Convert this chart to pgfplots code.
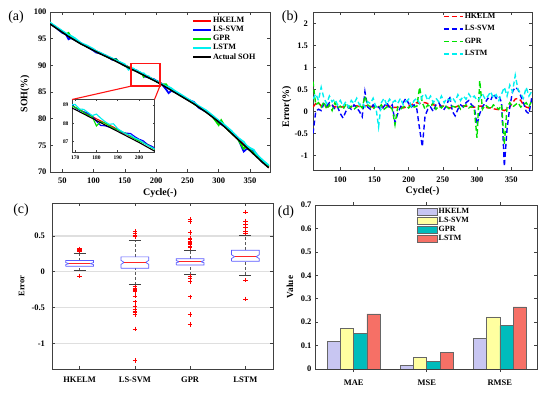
\documentclass[border=0pt]{standalone}
\usepackage{pgfplots}
\pgfplotsset{compat=1.18}
\usepackage{pgfplotstable}
\usepackage{fontspec}
\setmainfont{Liberation Serif}

\definecolor{cHK}{RGB}{255,0,0}
\definecolor{cLS}{RGB}{0,0,255}
\definecolor{cGP}{RGB}{0,225,0}
\definecolor{cLT}{RGB}{0,240,240}
\definecolor{bHK}{RGB}{200,198,242}
\definecolor{bLS}{RGB}{255,255,160}
\definecolor{bGP}{RGB}{0,188,188}
\definecolor{bLT}{RGB}{246,112,102}
\definecolor{boxblue}{RGB}{90,90,255}
\definecolor{rectred}{RGB}{255,20,20}

\pgfplotstableread{
c act hk ls gp lstm
30 97.80 97.92 97.90 97.95 98.05
40 97.00 97.12 97.05 97.10 97.25
50 96.20 96.32 96.10 96.30 96.45
56 95.72 95.84 95.80 95.85 96.00
60 95.40 95.50 94.90 96.08 95.68
64 95.12 95.30 95.12 95.27 95.52
70 94.70 94.82 94.75 94.80 95.10
80 94.00 94.10 94.12 94.05 94.18
90 93.40 93.52 93.50 93.50 93.68
100 92.80 92.91 92.75 92.92 93.05
104 92.56 92.66 92.41 92.61 92.68
110 92.20 92.32 92.25 92.30 92.40
120 91.65 91.77 91.80 91.70 91.83
130 91.10 91.22 91.05 91.18 91.30
136 90.74 90.86 91.19 91.09 90.84
140 90.50 90.64 90.60 90.65 90.72
150 89.90 90.00 90.00 89.95 90.20
156 89.54 89.65 89.64 89.62 89.19
160 89.30 89.40 89.32 89.45 89.50
164 89.08 89.20 89.20 89.13 89.38
166 88.97 89.09 89.12 89.05 89.17
168 88.86 88.99 89.06 88.96 89.01
170 88.75 88.87 88.85 88.87 89.03
172 88.63 88.75 88.71 88.75 88.78
174 88.51 88.62 88.63 88.59 88.76
176 88.39 88.49 88.54 88.44 88.59
178 88.27 88.37 88.39 88.37 88.42
180 88.15 88.24 88.10 87.85 88.50
182 88.03 88.13 87.88 88.08 88.28
184 87.91 88.01 87.86 88.01 88.09
186 87.79 87.90 87.79 87.87 87.94
188 87.67 87.79 87.72 87.72 87.97
190 87.55 87.65 87.65 87.65 87.70
192 87.43 87.51 87.51 87.53 87.55
194 87.31 87.40 87.46 87.43 87.41
196 87.19 87.29 87.44 87.29 87.34
198 87.07 87.18 87.27 87.15 87.19
200 86.95 87.07 87.13 87.03 87.10
202 86.82 86.95 87.04 86.92 86.94
204 86.69 86.84 86.84 86.81 86.79
206 86.56 86.72 86.74 86.66 86.68
208 86.43 86.61 86.58 86.53 86.55
210 86.30 86.50 86.35 86.42 86.45
216 85.88 86.06 85.48 86.43 86.06
220 85.60 85.80 84.80 85.80 85.95
224 85.32 85.52 85.22 85.37 85.72
230 84.90 85.08 84.98 85.02 85.20
240 84.20 84.34 84.35 84.25 84.50
250 83.50 83.62 83.58 83.62 83.75
260 82.80 82.88 83.15 82.85 83.05
268 82.16 82.26 82.06 82.26 82.38
280 81.20 81.33 81.30 81.30 81.55
290 80.30 80.40 80.50 80.40 80.62
300 79.40 79.50 79.10 78.80 79.65
304 79.00 79.12 78.95 79.70 79.30
310 78.40 78.51 78.55 78.50 78.75
320 77.30 77.38 77.55 77.35 77.75
330 76.20 76.25 76.52 76.30 76.50
340 75.10 75.12 73.85 74.35 75.65
344 74.66 74.71 74.26 74.76 75.01
350 74.00 74.15 74.40 74.12 74.50
356 73.34 73.62 73.89 73.49 74.16
360 72.90 73.20 73.40 73.10 73.40
370 71.80 71.92 71.85 71.98 72.25
380 70.80 70.85 71.10 71.05 71.25
}\tabA

\pgfplotstableread{
c hk ls gp lstm
60 0.10 -0.50 0.68 0.28
64 0.18 0.00 0.15 0.40
68 0.20 0.05 0.20 0.25
72 0.12 0.02 0.10 0.55
76 0.15 0.18 0.22 0.30
80 0.10 0.12 0.05 0.18
84 0.12 0.20 0.15 0.35
88 0.14 0.15 0.02 0.22
92 0.10 0.05 0.20 0.28
96 0.12 0.10 0.08 0.15
100 0.11 -0.05 0.12 0.25
104 0.10 -0.15 0.05 0.12
108 0.13 0.00 0.15 0.22
112 0.12 0.10 0.08 0.10
116 0.10 0.05 0.12 0.25
120 0.12 0.15 0.05 0.18
124 0.13 0.08 0.10 0.30
128 0.11 0.00 0.15 0.15
132 0.12 -0.12 0.08 0.20
136 0.12 0.45 0.35 0.10
140 0.14 0.10 0.15 0.22
144 0.12 0.05 0.10 0.18
148 0.10 0.15 0.05 0.30
152 0.12 0.08 0.12 0.10
156 0.11 0.10 0.08 -0.35
160 0.10 0.02 0.15 0.20
164 0.12 0.12 0.05 0.30
168 0.13 0.20 0.10 0.15
172 0.12 0.08 0.12 0.28
176 0.10 0.15 0.05 0.20
180 0.09 -0.25 -0.30 0.25
184 0.10 -0.05 0.10 0.18
188 0.12 0.10 0.05 0.30
192 0.08 0.20 0.10 0.15
196 0.10 0.30 0.12 0.22
200 0.12 0.18 0.08 0.28
204 0.15 0.10 0.15 0.12
208 0.18 0.15 0.10 0.25
212 0.20 0.05 0.12 0.30
216 0.18 -0.40 0.55 0.18
220 0.20 -0.80 0.20 0.35
224 0.20 -0.10 0.05 0.40
228 0.18 0.05 0.15 0.25
232 0.16 0.10 0.10 0.35
236 0.15 0.00 0.20 0.20
240 0.14 0.15 0.05 0.30
244 0.13 0.20 0.12 0.22
248 0.12 0.10 0.08 0.35
252 0.12 0.05 0.15 0.20
256 0.10 0.15 0.10 0.30
260 0.08 0.35 0.05 0.25
264 0.08 0.00 0.12 0.32
268 0.10 -0.10 0.10 0.22
272 0.12 0.05 0.15 0.38
276 0.12 0.15 0.05 0.25
280 0.13 0.10 0.10 0.35
284 0.12 0.20 0.15 0.28
288 0.12 0.25 0.08 0.40
292 0.10 0.15 0.12 0.30
296 0.10 0.10 0.05 0.35
300 0.10 -0.30 -0.60 0.25
304 0.12 -0.05 0.70 0.30
308 0.12 0.10 0.05 0.40
312 0.10 0.20 0.15 0.28
316 0.08 0.30 0.10 0.35
320 0.08 0.25 0.05 0.45
324 0.06 0.40 0.15 0.30
328 0.05 0.30 0.10 0.38
332 0.04 0.35 0.05 0.25
336 0.04 0.20 0.15 0.40
340 0.02 -1.25 -0.75 0.55
344 0.05 -0.40 0.10 0.35
348 0.10 0.10 0.20 0.60
352 0.20 0.45 0.10 0.45
356 0.28 0.55 0.15 0.82
360 0.30 0.50 0.20 0.50
364 0.25 0.35 0.10 0.40
368 0.15 0.20 0.15 0.30
372 0.10 0.00 0.20 0.55
376 0.08 -0.05 0.10 0.35
380 0.05 0.30 0.25 0.45
}\tabB

\pgfplotsset{
  myaxis/.style={
    scale only axis,
    tick align=inside,
    axis line style={black!75, line width=0.7bp},
    tick style={black!75, line width=0.5bp},
    major tick length=3bp,
    tick label style={font=\fontsize{8.5}{9}\selectfont\bfseries},
    label style={font=\fontsize{10}{11}\selectfont\bfseries},
    /pgf/number format/assume math mode=true,
    legend cell align=left,
  },
  linelegend/.style={legend image code/.code={\draw[##1] (0bp,0bp) -- (18bp,0bp);}},
}

\begin{document}
\begin{tikzpicture}
\path[use as bounding box] (0,0) rectangle (550bp,394bp);

% ---------------- (a)
\begin{axis}[myaxis, at={(50bp,222bp)}, anchor=south west, width=220bp, height=160bp,
  xmin=30.4, xmax=382, ymin=70, ymax=100,
  xtick={50,100,150,200,250,300,350}, ytick={70,75,80,85,90,95,100},
  xticklabel shift=2bp,
  xlabel={Cycle(-)}, ylabel={SOH(\%)},
  xlabel style={at={(axis description cs:0.5,-0.131)}, anchor=center},
  ylabel style={at={(axis description cs:-0.114,0.49)}, anchor=center},
  linelegend,
  legend style={at={(axis description cs:0.645,0.975)}, anchor=north west, draw=none, fill=none,
    font=\fontsize{8.2}{9}\selectfont\bfseries, row sep=0pt, inner sep=0pt, nodes={inner sep=1.1bp}},
]
\addplot[cHK, line width=1.8bp] table[x=c, y=hk] {\tabA};
\addplot[cLS, line width=1.8bp] table[x=c, y=ls] {\tabA};
\addplot[cGP, line width=1.8bp] table[x=c, y=gp] {\tabA};
\addplot[cLT, line width=1.8bp] table[x=c, y=lstm] {\tabA};
\addplot[black, line width=1.5bp] table[x=c, y=act] {\tabA};
\legend{HKELM, LS-SVM, GPR, LSTM, Actual SOH}
\coordinate (rbl) at (axis cs:160,86.1);
\coordinate (rbr) at (axis cs:206,86.1);
\coordinate (rtr) at (axis cs:206,90.3);
\coordinate (rtl) at (axis cs:160,90.3);
\end{axis}
\draw[draw=rectred, line width=1.3bp] (rbl) -- (rbr) -- (rtr) -- (rtl) -- cycle;

% inset
\begin{axis}[myaxis, at={(72bp,241.5bp)}, anchor=south west, width=82.5bp, height=53bp,
  xmin=168.5, xmax=207.3, ymin=86.4, ymax=89.3,
  xtick={170,180,190,200}, ytick={87,88,89},
  tick label style={font=\fontsize{5.5}{6}\selectfont\bfseries},
  major tick length=2bp, axis background/.style={fill=white},
  axis line style={black!75, line width=0.6bp},
]
\addplot[cHK, line width=1.1bp] table[x=c, y=hk] {\tabA};
\addplot[cLS, line width=1.1bp] table[x=c, y=ls] {\tabA};
\addplot[cGP, line width=1.1bp] table[x=c, y=gp] {\tabA};
\addplot[cLT, line width=1.1bp] table[x=c, y=lstm] {\tabA};
\addplot[black, line width=1.1bp] table[x=c, y=act] {\tabA};
\end{axis}
\draw[draw=rectred, line width=1.1bp] (rbl) -- (72bp,294.5bp);
\draw[draw=rectred, line width=1.1bp] (rbr) -- (154.5bp,294.5bp);

% ---------------- (b)
\begin{axis}[myaxis, at={(313bp,224bp)}, anchor=south west, width=219bp, height=158bp,
  xmin=60, xmax=380.5, ymin=-1.33, ymax=2.26,
  xtick={100,150,200,250,300,350}, ytick={-1,-0.5,0,0.5,1,1.5,2},
  xticklabel shift=3bp, yticklabel shift=1.5bp,
  xlabel={Cycle(-)}, ylabel={Error(\%)},
  xlabel style={at={(axis description cs:0.5,-0.133)}, anchor=center},
  ylabel style={at={(axis description cs:-0.12,0.40)}, anchor=center},
  legend image code/.code={\draw[#1] (0bp,0bp) -- (19bp,0bp);},
  legend style={at={(axis description cs:0.594,1.0)}, anchor=north west, draw=none, fill=none,
    font=\fontsize{8}{9}\selectfont\bfseries, row sep=3.5bp, inner sep=0pt, nodes={inner sep=1.1bp}},
]
\addplot[cHK, line width=1.4bp, dash pattern=on 5bp off 3bp] table[x=c, y=hk] {\tabB};
\addplot[cLS, line width=1.4bp, dash pattern=on 5bp off 3bp] table[x=c, y=ls] {\tabB};
\addplot[cGP, line width=1.4bp, dash pattern=on 5bp off 3bp] table[x=c, y=gp] {\tabB};
\addplot[cLT, line width=1.4bp, dash pattern=on 5bp off 3bp] table[x=c, y=lstm] {\tabB};
\legend{HKELM, LS-SVM, GPR, LSTM}
\end{axis}

% ---------------- (c)
\begin{axis}[myaxis, at={(52bp,25bp)}, anchor=south west, width=221bp, height=166bp,
  xmin=0.5, xmax=4.5, ymin=-1.36, ymax=0.96,
  xtick={1,2,3,4}, xticklabels={HKELM,LS-SVM,GPR,LSTM},
  ytick={-1,-0.5,0,0.5},
  ymajorgrids, grid style={gray!25, line width=1.3bp},
  xticklabel shift=4bp, yticklabel shift=3.5bp,
  ylabel={Error},
  ylabel style={at={(axis description cs:-0.137,0.5)}, anchor=center, font=\fontsize{8.5}{9}\selectfont\bfseries},
  unbounded coords=jump,
]
% whiskers (dashed)
\addplot[black!65, line width=0.6bp, dash pattern=on 3bp off 2bp] coordinates {
  (1,0.014) (1,0.075) (1,nan) (1,0.156) (1,0.26) (1,nan)
  (2,-0.18) (2,0.047) (2,nan) (2,0.207) (2,0.434) (2,nan)
  (3,-0.04) (3,0.094) (3,nan) (3,0.18) (3,0.30) (3,nan)
  (4,-0.045) (4,0.146) (4,nan) (4,0.30) (4,0.505)};
% whisker caps
\addplot[black!75, line width=0.6bp] coordinates {
  (0.89,0.014) (1.11,0.014) (1,nan) (0.89,0.26) (1.11,0.26) (1,nan)
  (1.89,-0.18) (2.11,-0.18) (2,nan) (1.89,0.434) (2.11,0.434) (2,nan)
  (2.89,-0.04) (3.11,-0.04) (3,nan) (2.89,0.30) (3.11,0.30) (3,nan)
  (3.89,-0.045) (4.11,-0.045) (4,nan) (3.89,0.505) (4.11,0.505)};
% notched boxes
\addplot[boxblue, line width=0.7bp] coordinates {
  (0.75,0.075) (1.25,0.075) (1.25,0.099) (1.195,0.113) (1.25,0.127) (1.25,0.156)
  (0.75,0.156) (0.75,0.127) (0.805,0.113) (0.75,0.099) (0.75,0.075)};
\addplot[boxblue, line width=0.7bp] coordinates {
  (1.75,0.047) (2.25,0.047) (2.25,0.103) (2.195,0.13) (2.25,0.157) (2.25,0.207)
  (1.75,0.207) (1.75,0.157) (1.805,0.13) (1.75,0.103) (1.75,0.047)};
\addplot[boxblue, line width=0.7bp] coordinates {
  (2.75,0.094) (3.25,0.094) (3.25,0.125) (3.195,0.14) (3.25,0.155) (3.25,0.18)
  (2.75,0.18) (2.75,0.155) (2.805,0.14) (2.75,0.125) (2.75,0.094)};
\addplot[boxblue, line width=0.7bp] coordinates {
  (3.75,0.146) (4.25,0.146) (4.25,0.184) (4.195,0.21) (4.25,0.236) (4.25,0.30)
  (3.75,0.30) (3.75,0.236) (3.805,0.21) (3.75,0.184) (3.75,0.146)};
% medians
\addplot[red!85, line width=0.8bp] coordinates {
  (0.805,0.113) (1.195,0.113) (1,nan)
  (1.805,0.13) (2.195,0.13) (2,nan)
  (2.805,0.14) (3.195,0.14) (3,nan)
  (3.805,0.21) (4.195,0.21)};
% outliers
\addplot[only marks, mark=+, mark size=2.2bp, mark options={red, line width=0.6bp}] coordinates {
  (1,0.29) (1,0.30) (1,0.31) (1,0.32) (1,-0.06)
  (2,0.56) (2,0.54) (2,0.51) (2,0.49) (2,-0.21) (2,-0.23) (2,-0.25) (2,-0.26) (2,-0.28)
  (2,-0.34) (2,-0.42) (2,-0.48) (2,-0.52) (2,-0.55) (2,-0.57) (2,-0.60) (2,-0.80) (2,-1.24)
  (3,0.73) (3,0.70) (3,0.55) (3,0.47) (3,0.45) (3,0.43) (3,0.42) (3,0.41) (3,0.40) (3,0.38)
  (3,0.36) (3,0.34) (3,-0.07) (3,-0.09) (3,-0.14) (3,-0.35) (3,-0.60) (3,-0.74)
  (4,0.835) (4,0.71) (4,0.665) (4,0.62) (4,0.565) (4,0.54) (4,-0.12) (4,-0.38)};
\end{axis}

% ---------------- (d)
\begin{axis}[myaxis, at={(315bp,25bp)}, anchor=south west, width=222bp, height=164bp,
  xmin=0.47, xmax=3.51, ymin=0, ymax=0.7,
  xtick={1,2,3}, xticklabels={MAE,MSE,RMSE},
  ytick={0,0.1,0.2,0.3,0.4,0.5,0.6,0.7},
  ybar=0pt, bar width=0.182,
  xticklabel shift=4bp,
  ylabel={Value},
  ylabel style={at={(axis description cs:-0.113,0.5)}, anchor=center, font=\fontsize{9.3}{10}\selectfont\bfseries},
  legend image code/.code={\draw[#1] (0bp,-3.5bp) rectangle (20bp,3.5bp);},
  legend style={at={(axis description cs:0.459,0.985)}, anchor=north west, draw=none, fill=none,
    font=\fontsize{8}{9}\selectfont\bfseries, row sep=0pt, inner sep=0pt, nodes={inner sep=1.1bp}},
]
\addplot[fill=bHK, draw=black!60, line width=0.5bp] coordinates {(1,0.118) (2,0.017) (3,0.132)};
\addplot[fill=bLS, draw=black!60, line width=0.5bp] coordinates {(1,0.175) (2,0.050) (3,0.222)};
\addplot[fill=bGP, draw=black!60, line width=0.5bp] coordinates {(1,0.152) (2,0.034) (3,0.185)};
\addplot[fill=bLT, draw=black!60, line width=0.5bp] coordinates {(1,0.235) (2,0.070) (3,0.265)};
\legend{HKELM, LS-SVM, GPR, LSTM}
\end{axis}

\node[font=\fontsize{14}{15}\selectfont] at (16bp,377bp) {(a)};
\node[font=\fontsize{14}{15}\selectfont] at (290bp,377bp) {(b)};
\node[font=\fontsize{14}{15}\selectfont] at (21bp,184bp) {(c)};
\node[font=\fontsize{14}{15}\selectfont] at (286bp,182bp) {(d)};
\end{tikzpicture}
\end{document}
